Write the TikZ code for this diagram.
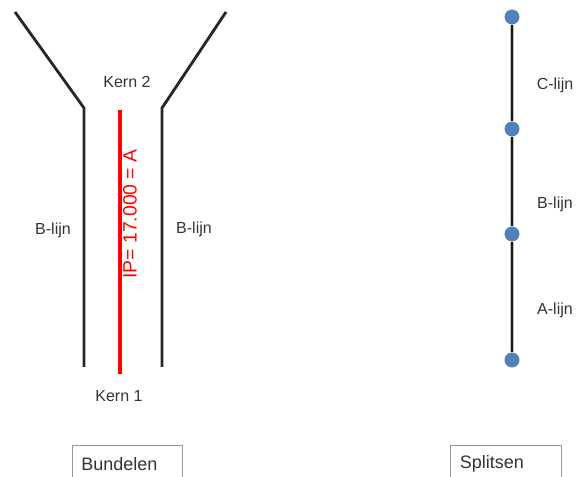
\documentclass[tikz,border=0pt]{standalone}
\usepackage{fontspec}
\setmainfont{Liberation Sans}
\usetikzlibrary{positioning}
\definecolor{dotblue}{RGB}{79,129,189}
\definecolor{boxgray}{RGB}{150,150,150}

\begin{document}
\begin{tikzpicture}[x=0.75pt,y=-0.75pt,every node/.style={font=\fontsize{12}{14}\selectfont,text=black!80},
  wall/.style={line width=2.1pt,black!85},
  dot/.style={circle,fill=dotblue,inner sep=0pt,minimum size=11pt},
  knop/.style={draw=boxgray,line width=0.7pt,font=\fontsize{13.5}{16}\selectfont,minimum height=28pt,
    inner xsep=7pt,text width=69pt,align=left}]
\useasboundingbox (0,0) rectangle (579,477);
% bundelen: twee wanden met de kern ertussen
\coordinate (lt) at (15,12); \coordinate (lk) at (84,108); \coordinate (lb) at (84,367);
\coordinate (rt) at (226,12); \coordinate (rk) at (162,108); \coordinate (rb) at (162,367);
\draw[wall](lt)--(lk)--(lb);
\draw[wall](rt)--(rk)--(rb);
\coordinate (ipt) at (120,110); \coordinate (ipb) at (120,374);
\draw[red,line width=3.2pt](ipt)--(ipb);
\node[red,font=\fontsize{14.5}{16}\selectfont,rotate=90] (ip) at (130,214) {IP= 17.000 = A};
\node (k2) at (127,82) {Kern 2};
\node (k1) at (119,396) {Kern 1};
\node (bl) at (53,230) {B-lijn}; \node (br) at (194,229) {B-lijn};
% splitsen: lijn met knooppunten
\node[dot] (p4) at (512,17) {}; \node[dot] (p3) at (512,129) {};
\node[dot] (p2) at (512,234) {}; \node[dot] (p1) at (512,360) {};
\draw[black!25,line width=3pt](p1)--(p2)--(p3)--(p4);
\draw[black!90,line width=1.5pt](p1)--(p2)--(p3)--(p4);
\foreach \p in {p1,p2,p3,p4} \node[dot] at (\p) {};
\node (c) at (555,85) {C-lijn};
\node (b) at (555,204) {B-lijn};
\node (a) at (555,310) {A-lijn};
% knoppen onderaan
\node[knop,anchor=north west] (bund) at (71.5,445) {Bundelen};
\node[knop,anchor=north west] (spl) at (450,445) {Splitsen};
\end{tikzpicture}
\end{document}
